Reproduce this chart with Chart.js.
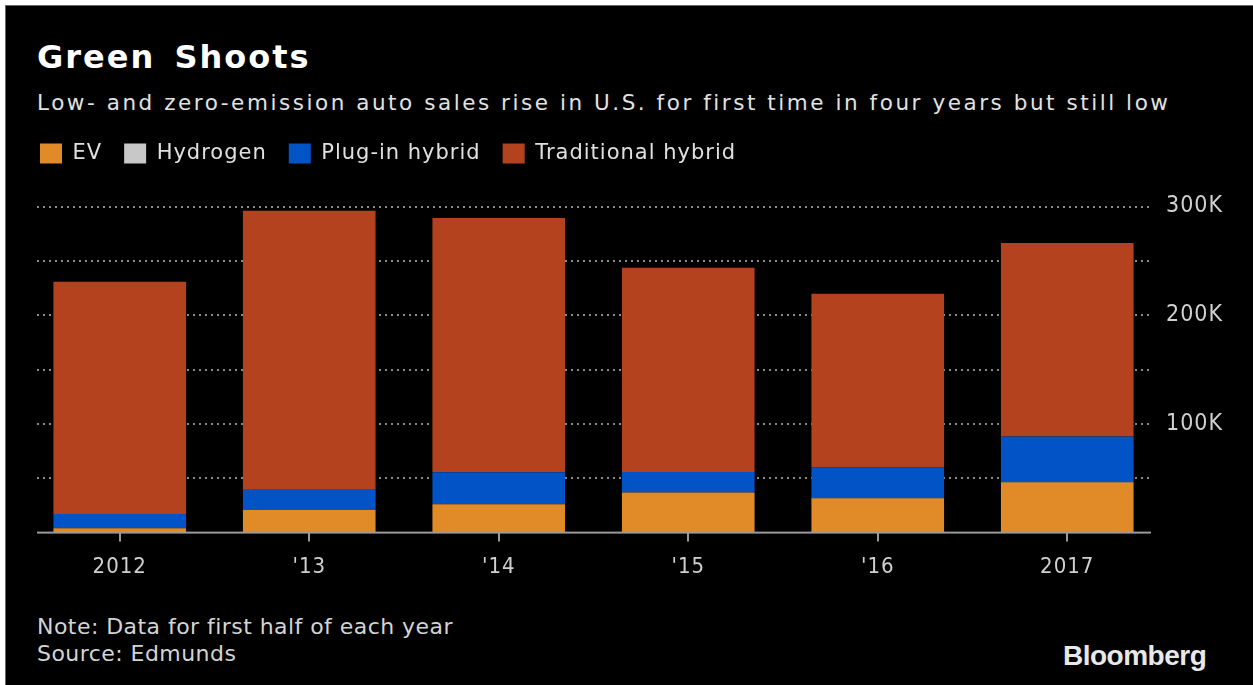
<!DOCTYPE html>
<html>
<head>
<meta charset="utf-8">
<script src="https://cdn.jsdelivr.net/npm/chart.js@4/dist/chart.umd.min.js"></script>
<style>
  html, body { margin:0; padding:0; background:#fff; width:1253px; height:685px; overflow:hidden; position:relative; }
  #frame { position:absolute; left:5px; top:5px; width:1248px; height:680px; background:#000; border-left:1px solid #666; border-top:1px solid #666; box-sizing:border-box; }
  .t { position:absolute; white-space:nowrap; line-height:1; font-family:"DejaVu Sans",sans-serif; }
  #title { left:37px; top:41px; font-size:32px; font-weight:bold; color:#fff; letter-spacing:2px; word-spacing:6px; }
  #subtitle { left:37px; top:92px; font-size:21.5px; color:#e2e2e2; letter-spacing:2.55px; }
  #note1 { left:37px; top:616px; font-size:22px; color:#d4d4d4; letter-spacing:0.45px; }
  #note2 { left:37px; top:643px; font-size:22px; color:#d4d4d4; letter-spacing:0.45px; }
  #logo { left:1063px; top:642px; font-family:"Liberation Sans",Arial,sans-serif; font-weight:bold; font-size:28px; color:#e8e8e8; letter-spacing:-0.5px; }
  #wrap { position:absolute; left:0; top:121px; width:1253px; height:479px; }
</style>
</head>
<body>
<div id="frame"></div>
<div class="t" id="title">Green Shoots</div>
<div class="t" id="subtitle">Low- and zero-emission auto sales rise in U.S. for first time in four years but still low</div>
<div class="t" id="note1">Note: Data for first half of each year</div>
<div class="t" id="note2">Source: Edmunds</div>
<div class="t" id="logo">Bloomberg</div>
<div id="wrap"><canvas id="c"></canvas></div>
<script>
const categories = ["2012", "'13", "'14", "'15", "'16", "2017"];
const ev          = [4100, 20900, 26000, 36900, 31400, 46000];
const hydrogen    = [0, 0, 0, 100, 500, 500];
const plugin      = [12900, 19100, 29500, 18800, 28100, 41800];
const traditional = [213700, 256000, 233900, 187800, 159700, 178200];
const yTicks = [0, 50000, 100000, 150000, 200000, 250000, 300000];
const yLabels = {100000: "100K", 200000: "200K", 300000: "300K"};

const FONT_AXIS = "'DejaVu Sans Condensed','DejaVu Sans',sans-serif";
const FONT_LEG = "'DejaVu Sans',sans-serif";

const spacing = {
  id: 'spacing',
  beforeUpdate(chart) { chart.ctx.letterSpacing = '1px'; },
  beforeLayout(chart) { chart.ctx.letterSpacing = '1px'; },
  beforeDraw(chart) { chart.ctx.letterSpacing = '1px'; }
};

const legendSpace = {
  id: 'legendSpace',
  beforeInit(chart) {
    const orig = chart.legend.fit;
    chart.legend.fit = function() { orig.bind(chart.legend)(); this.height += 32.5; };
  },
  afterLayout(chart) {
    chart.legend.left -= 7;
  }
};

const dottedGrid = {
  id: 'dottedGrid',
  beforeDatasetsDraw(chart) {
    const ctx = chart.ctx, y = chart.scales.y;
    const x0 = 37, x1 = 1149;
    ctx.save();
    ctx.fillStyle = '#8a8a8a';
    yTicks.forEach(v => {
      if (v === 0) return;
      const py = Math.round(y.getPixelForValue(v));
      for (let x = x0; x < x1; x += 6) ctx.fillRect(x, py - 1, 2, 2);
    });
    ctx.restore();
  },
  afterDatasetsDraw(chart) {
    const ctx = chart.ctx, y = chart.scales.y;
    const py = y.getPixelForValue(0);
    ctx.save();
    ctx.fillStyle = '#9a9a9a';
    ctx.fillRect(37, py - 1, 1114, 2);
    ctx.restore();
  }
};

new Chart(document.getElementById('c'), {
  type: 'bar',
  data: {
    labels: categories,
    datasets: [
      { label: 'EV', data: ev, backgroundColor: '#e08a28' },
      { label: 'Hydrogen', data: hydrogen, backgroundColor: '#c8c8c8' },
      { label: 'Plug-in hybrid', data: plugin, backgroundColor: '#0253c6' },
      { label: 'Traditional hybrid', data: traditional, backgroundColor: '#b5421f' }
    ]
  },
  options: {
    responsive: true,
    maintainAspectRatio: false,
    animation: false,
    layout: { padding: { left: 25, right: 0, top: 0, bottom: 8 } },
    datasets: { bar: { categoryPercentage: 0.7, barPercentage: 1.0, borderWidth: 0 } },
    plugins: {
      legend: {
        position: 'top', align: 'start',
        labels: {
          color: '#e0e0e0', boxWidth: 22, boxHeight: 20, padding: 22,
          font: { family: FONT_LEG, size: 21 }
        }
      },
      tooltip: { enabled: false }
    },
    scales: {
      x: {
        stacked: true,
        grid: { display: true, offset: false, drawOnChartArea: false, drawTicks: true, tickLength: 9, color: '#9a9a9a', lineWidth: 2 },
        border: { display: false },
        ticks: { color: '#d0d0d0', font: { family: FONT_AXIS, size: 22 }, padding: 12 }
      },
      y: {
        stacked: true,
        position: 'right',
        min: 0, max: 300000,
        afterFit(scale) { scale.width = 91; },
        afterBuildTicks(scale) { scale.ticks = yTicks.map(v => ({ value: v })); },
        grid: { display: false, drawTicks: false },
        border: { display: false },
        ticks: {
          color: '#d0d0d0', font: { family: FONT_AXIS, size: 23 }, padding: 4,
          callback: v => yLabels[v] || ''
        }
      }
    }
  },
  plugins: [spacing, legendSpace, dottedGrid]
});
</script>
</body>
</html>
